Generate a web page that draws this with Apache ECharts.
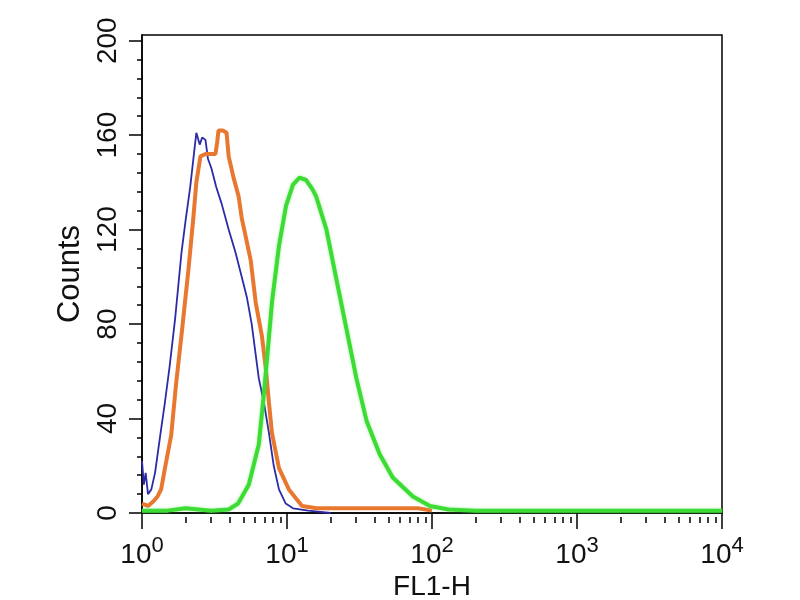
<!DOCTYPE html>
<html>
<head>
<meta charset="utf-8">
<script src="https://cdn.jsdelivr.net/npm/echarts@6/dist/echarts.min.js"></script>
<style>
	html, body { margin: 0; padding: 0; background: #fff; }
	#chart { width: 800px; height: 600px; }
</style>
</head>
<body>
<div id="chart"></div>
<script type="text/javascript">

// blue histogram (thin line)
var blueFL     = [1, 1.03, 1.06, 1.1, 1.16, 1.23, 1.33, 1.44, 1.55, 1.69, 1.87, 2.0, 2.15, 2.28, 2.37, 2.5, 2.6, 2.74, 2.85, 3.01, 3.25, 3.54, 3.96, 4.43, 4.87, 5.3, 5.71, 6.39, 6.92, 7.5, 8.1, 8.8, 9.8, 11, 14, 20];
var blueCounts = [22, 12, 17, 8, 10, 17, 32, 47, 62, 82, 110, 124, 138, 152, 161, 156, 159, 158, 150, 146, 138, 131, 120, 110, 100, 91, 80, 57, 47, 34, 20, 10, 4, 2, 1, 0];

// orange histogram
var orangeFL     = [1, 1.1, 1.2, 1.28, 1.355, 1.45, 1.59, 1.72, 1.87, 2.09, 2.26, 2.37, 2.53, 2.74, 3.21, 3.3, 3.37, 3.6, 3.83, 3.96, 4.28, 4.64, 4.87, 5.19, 5.62, 5.9, 6.09, 6.71, 7.15, 7.5, 7.87, 8.8, 10.3, 12.7, 16, 25, 40, 60, 80, 100];
var orangeCounts = [4, 3, 5, 7, 10, 20, 33, 55, 75, 103, 125, 140, 151, 152, 152, 157, 162, 162, 161, 151, 142, 134, 125, 117, 107, 96, 89, 75, 61, 47, 34, 19, 10, 3, 2, 2, 2, 2, 2, 1];

// green histogram
var greenFL     = [1, 1.5, 2, 3, 3.96, 4.6, 5.45, 6.39, 6.92, 7.4, 7.9, 8.8, 9.84, 11.0, 12.2, 13.55, 15.0, 15.9, 18.7, 21.9, 25.7, 30.1, 35.4, 43.5, 53.6, 73.8, 96.8, 130, 200, 500, 1000, 3000, 10000];
var greenCounts = [1, 1, 2, 1, 1.5, 4, 12, 29, 50, 70, 90, 113, 130, 139, 142, 141, 137, 134, 120, 99, 78, 57, 39, 25, 15, 7, 3, 1.5, 1, 1, 1, 1, 1];

// axis ticks
var xTicks      = [1, 10, 100, 1000, 10000];
var xTickLabels = ['0', '1', '2', '3', '4'];
var xMinorTicks = [];
for (var d = 1; d < 10000; d *= 10) {
	for (var m = 2; m <= 9; m++) xMinorTicks.push(m * d);
}
var yTicks      = [0, 40, 80, 120, 160, 200];
var yMinorTicks = [];
for (var t = 0; t <= 200; t += 8) yMinorTicks.push(t);

function pairs(xs, ys) {
	var out = [];
	for (var i = 0; i < xs.length; i++) out.push([xs[i], ys[i]]);
	return out;
}

var font = 'Liberation Sans';
var chart = echarts.init(document.getElementById('chart'));

function logAxis(extra) {
	var a = {
		type: 'log', logBase: 10, min: 1, max: 10000,
		position: 'bottom',
		splitLine: { show: false },
		axisLine: { show: false },
		axisTick: { show: false },
		axisLabel: { show: false }
	};
	for (var k in extra) a[k] = extra[k];
	return a;
}

function valAxis(extra) {
	var a = {
		type: 'value', min: 0, max: 202.4,
		position: 'left',
		splitLine: { show: false },
		axisLine: { show: false },
		axisTick: { show: false },
		axisLabel: { show: false }
	};
	for (var k in extra) a[k] = extra[k];
	return a;
}

var option = {
	animation: false,
	backgroundColor: '#fff',
	grid: {
		left: 142, right: 78, top: 35, bottom: 87,
		outerBoundsMode: 'none',
		containLabel: false,
		show: true, borderColor: '#000', borderWidth: 1.5
	},
	xAxis: [
		logAxis({
			axisLine: { show: true, lineStyle: { color: '#000', width: 1.5 } },
			name: 'FL1-H', nameLocation: 'middle', nameGap: 60, nameMoveOverlap: false,
			nameTextStyle: { fontFamily: font, fontSize: 28, color: '#111', verticalAlign: 'top' },
			axisLabel: {
				show: true,
				customValues: xTicks,
				margin: 22,
				formatter: function (v) {
					var i = xTicks.indexOf(v);
					return '{b|10}{s|' + xTickLabels[i] + '}';
				},
				rich: {
					b: { fontFamily: font, fontSize: 28, color: '#111', lineHeight: 34, verticalAlign: 'bottom' },
					s: { fontFamily: font, fontSize: 22, color: '#111', lineHeight: 20, verticalAlign: 'top' }
				}
			}
		}),
		logAxis({
			offset: 4,
			axisTick: { show: true, customValues: xTicks, length: 16, lineStyle: { color: '#000', width: 1.5 } }
		}),
		logAxis({
			offset: 4,
			axisTick: { show: true, customValues: xMinorTicks, length: 6, lineStyle: { color: '#000', width: 1.5 } }
		})
	],
	yAxis: [
		valAxis({
			axisLine: { show: true, lineStyle: { color: '#000', width: 1.5 } },
			axisTick: { show: true, customValues: yTicks, length: 13, lineStyle: { color: '#000', width: 1.5 } },
			axisLabel: {
				show: true, customValues: yTicks, rotate: 90, margin: 20,
				align: 'center', verticalAlign: 'bottom',
				fontFamily: font, fontSize: 28, color: '#111'
			},
			name: 'Counts', nameLocation: 'middle', nameGap: 56, nameRotate: 90, nameMoveOverlap: false,
			nameTextStyle: { fontFamily: font, fontSize: 31, color: '#111' }
		}),
		valAxis({
			axisTick: { show: true, customValues: yMinorTicks, length: 5, lineStyle: { color: '#000', width: 1.5 } }
		})
	],
	series: [
		{
			name: 'blue', type: 'line', xAxisIndex: 0, yAxisIndex: 0,
			data: pairs(blueFL, blueCounts), symbol: 'none',
			lineStyle: { color: '#2b2ba8', width: 1.8 }
		},
		{
			name: 'orange', type: 'line', xAxisIndex: 0, yAxisIndex: 0,
			data: pairs(orangeFL, orangeCounts), symbol: 'none',
			lineStyle: { color: '#e8782f', width: 4 }
		},
		{
			name: 'green', type: 'line', xAxisIndex: 0, yAxisIndex: 0,
			data: pairs(greenFL, greenCounts), symbol: 'none',
			lineStyle: { color: '#3ddc34', width: 4, shadowColor: 'rgba(80,230,80,0.5)', shadowBlur: 3 }
		}
	]
};

chart.setOption(option);
</script>
</body>
</html>
